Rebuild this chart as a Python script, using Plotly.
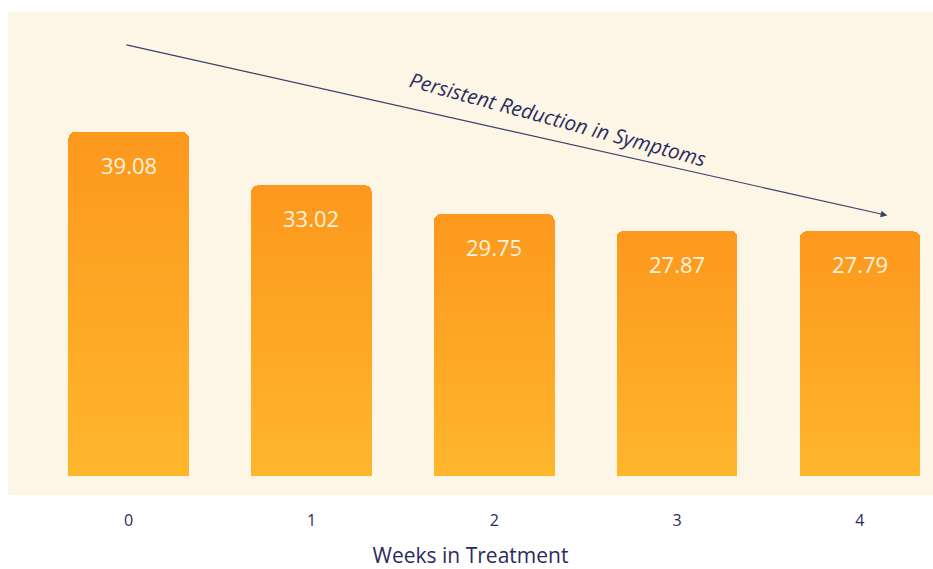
import plotly.graph_objects as go

# Weekly symptom scores
weeks = ["0", "1", "2", "3", "4"]
scores = [39.08, 33.02, 29.75, 27.87, 27.79]
value_labels = ["39.08", "33.02", "29.75", "27.87", "27.79"]

TOP_COLOR = (253, 152, 30)
BOTTOM_COLOR = (254, 182, 43)
N_SLICES = 40
INK = "#2B2C5C"


def blend(t):
    r, g, b = (round(BOTTOM_COLOR[k] + (TOP_COLOR[k] - BOTTOM_COLOR[k]) * t) for k in range(3))
    return f"rgb({r},{g},{b})"


fig = go.Figure()

# Each bar is built from thin stacked slices so it fades from orange at the top
# to amber at the base; only the top of the stack gets rounded corners.
for s in range(N_SLICES):
    t = (s + 0.5) / N_SLICES
    fig.add_trace(go.Bar(
        x=weeks,
        y=[v / N_SLICES for v in scores],
        marker=dict(color=blend(t), line=dict(width=0)),
        hoverinfo="skip",
        showlegend=False,
    ))

# Value labels just inside the top of each bar
for w, v, lab in zip(weeks, scores, value_labels):
    fig.add_annotation(
        x=w, y=v, text=lab, showarrow=False, yshift=-33,
        font=dict(family="Open Sans", size=22, color="#FFF3DE"),
    )

# Trend arrow and its caption
fig.add_annotation(
    x=4.15, y=29.6, ax=-0.02, ay=49.0,
    xref="x", yref="y", axref="x", ayref="y",
    text="", showarrow=True, arrowhead=2, arrowsize=1.1, arrowwidth=1.2,
    arrowcolor="#3C3D6B",
)
fig.add_annotation(
    x=2.35, y=40.5, xref="x", yref="y",
    text="<i>Persistent Reduction in Symptoms</i>", showarrow=False,
    textangle=15.2,
    font=dict(family="Open Sans", size=20.5, color=INK),
)

fig.update_layout(
    width=933, height=569,
    margin=dict(l=8, r=0, t=12, b=74),
    paper_bgcolor="white",
    plot_bgcolor="#FDF6E7",
    barmode="stack",
    bargap=0.34,
    barcornerradius=7,
    font=dict(family="Open Sans", color=INK),
)
fig.update_xaxes(
    type="category", range=[-0.66, 4.40],
    showgrid=False, zeroline=False, showline=False,
    ticks="", ticklabelstandoff=14,
    tickfont=dict(size=16, color=INK),
    title=dict(text="Weeks in Treatment", font=dict(size=21, color=INK), standoff=23),
)
fig.update_yaxes(
    range=[-2.16, 52.7], visible=False, showgrid=False, zeroline=False,
)

fig.write_html("out.html")
